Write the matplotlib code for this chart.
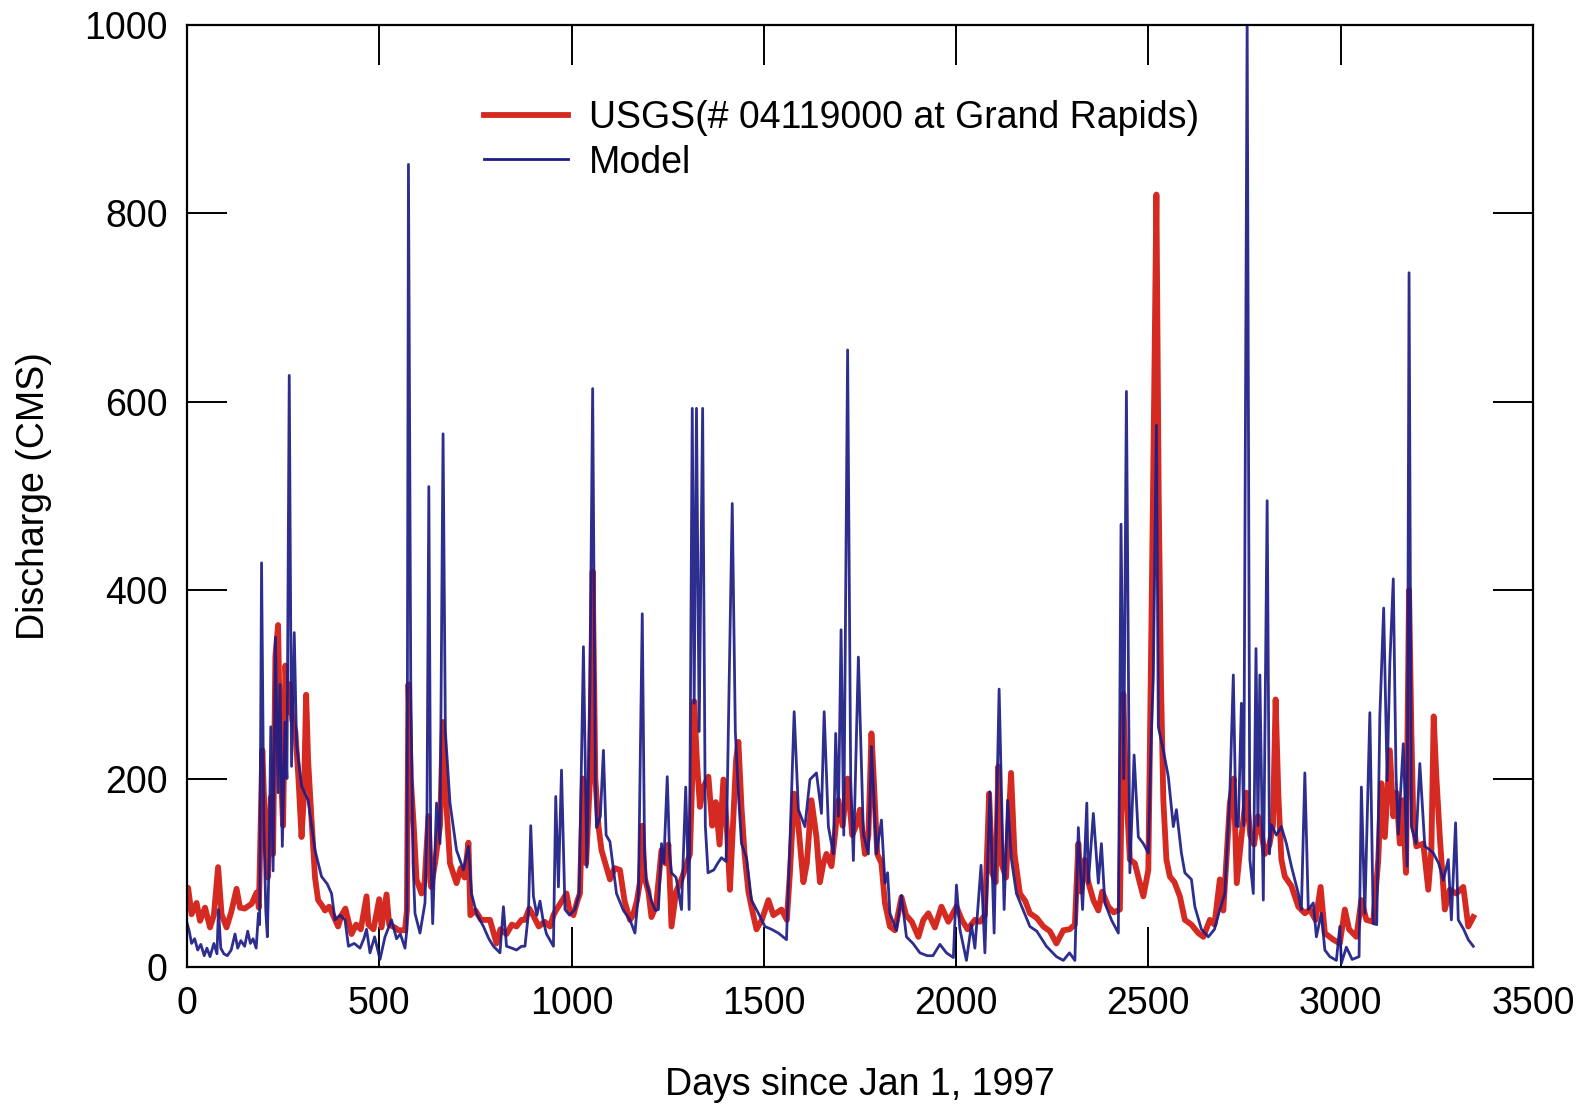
import matplotlib
matplotlib.use("Agg")
import matplotlib.pyplot as plt
from matplotlib.lines import Line2D

plt.rcParams['font.family'] = ['Liberation Sans', 'DejaVu Sans']

# Observed daily discharge, USGS gauge 04119000 (Grand Rapids)
usgs_day = [0, 3, 12, 25, 34, 47, 60, 70, 81, 90, 103, 115, 129, 138, 150, 168, 181, 187,
            190, 196, 203, 210, 218, 224, 230, 237, 243, 250, 256, 262, 268, 274, 282, 290,
            298, 304, 310, 315, 322, 333, 341, 350, 359, 370, 380, 393, 402, 412, 428, 440,
            452, 467, 472, 485, 500, 506, 519, 526, 540, 550, 567, 572,
            576, 582, 590, 597, 610, 618, 628, 635, 645, 658, 666, 672, 684, 692, 701, 712,
            722, 732, 737, 750, 765, 788, 805, 815, 831, 845, 857, 870, 879, 890, 900, 915,
            930, 944, 953, 961, 975, 987, 995, 1005, 1015, 1022, 1030, 1038, 1048, 1055,
            1062, 1070, 1078, 1088, 1100, 1112, 1126, 1138, 1152, 1160, 1170, 1178,
            1184, 1190, 1200, 1208, 1220, 1234, 1245, 1252, 1260, 1272, 1286, 1300, 1308,
            1314, 1319, 1326, 1334, 1342, 1356, 1366, 1375, 1385, 1395, 1405, 1412, 1420,
            1428, 1434, 1442, 1450, 1460, 1470, 1481, 1495, 1512, 1525, 1546, 1560, 1568,
            1579, 1590, 1603, 1612, 1624, 1637, 1646, 1655, 1663, 1676, 1685, 1694, 1705,
            1718, 1730, 1740, 1750, 1763, 1772, 1780, 1786, 1795, 1806, 1815, 1828, 1841,
            1858, 1870, 1885, 1902, 1915, 1928, 1945, 1962, 1980, 2001, 2015, 2030, 2049,
            2062, 2075, 2086, 2094, 2103, 2110, 2118, 2130, 2143, 2152, 2166, 2180, 2192,
            2210, 2227, 2244, 2261, 2279, 2295, 2309, 2318, 2325, 2335, 2344, 2357, 2370,
            2380, 2396, 2410, 2426, 2431, 2435, 2441, 2452, 2465, 2478, 2487, 2500, 2508,
            2515, 2521, 2527, 2533, 2539, 2547, 2556, 2568, 2582, 2595, 2612, 2630, 2643,
            2660, 2672, 2686, 2695, 2712, 2722, 2730, 2742, 2755, 2765, 2775, 2785, 2795,
            2803, 2815, 2824, 2831, 2838, 2846, 2855, 2872, 2890, 2907, 2920, 2935, 2948,
            2959, 2981, 2998, 3011, 3022, 3041, 3054, 3067, 3085, 3098, 3106, 3115, 3128,
            3137, 3145, 3154, 3161, 3170, 3178, 3184, 3189, 3197, 3215, 3228, 3236, 3242,
            3249, 3258, 3271, 3284, 3301, 3319, 3332, 3345]
usgs_q = [84, 84, 56, 68, 49, 63, 42, 55, 106, 56, 42, 58, 83, 63, 62, 67, 79, 63,
          120, 230, 150, 95, 180, 120, 330, 363, 220, 150, 320, 270, 300, 262, 250, 200,
          138, 180, 289, 220, 170, 95, 71, 66, 60, 64, 55, 43, 55, 62, 35, 45,
          40, 75, 45, 40, 72, 42, 77, 45, 42, 39, 39, 60,
          300, 200, 148, 93, 78, 90, 160, 85, 110, 150, 260, 190, 110, 100, 89, 105,
          95, 132, 55, 60, 50, 50, 25, 40, 35, 45, 43, 50, 50, 62, 55, 43,
          48, 43, 55, 61, 70, 78, 60, 55, 70, 78, 200, 110, 200, 420,
          200, 150, 124, 110, 93, 105, 103, 70, 50, 55, 70, 90,
          150, 95, 80, 53, 65, 124, 110, 130, 43, 80, 93, 110, 120,
          200, 282, 220, 170, 190, 202, 150, 175, 130, 199, 140, 82, 150,
          220, 239, 170, 120, 80, 60, 40, 50, 71, 55, 61, 50, 100,
          184, 150, 90, 110, 177, 138, 90, 110, 120, 107, 140, 177, 150,
          200, 140, 150, 167, 120, 140, 248, 200, 120, 110, 68, 43, 39,
          74, 55, 48, 32, 50, 57, 42, 64, 48, 64, 50, 40, 50,
          48, 55, 184, 100, 90, 213, 110, 95, 206, 120, 78, 70, 57,
          52, 43, 38, 25, 39, 40, 45, 131, 80, 114, 90, 71, 60,
          80, 64, 58, 61, 200, 290, 200, 114, 110, 89, 75, 103, 361,
          600, 820, 500, 300, 177, 114, 96, 90, 75, 50, 45, 36, 32,
          50, 45, 93, 60, 174, 200, 89, 138, 185, 140, 130, 160, 140,
          120, 130, 150, 284, 184, 114, 96, 86, 64, 57, 61, 50, 85,
          36, 29, 25, 61, 40, 32, 71, 50, 48, 114, 195, 138, 230,
          160, 185, 131, 177, 100, 400, 250, 156, 128, 131, 82, 124, 266,
          202, 138, 61, 82, 78, 85, 43, 53]

# Simulated daily discharge
model_day = [0, 6, 12, 20, 28, 36, 45, 52, 60, 70, 78, 82, 88, 96, 105, 115, 125, 132,
             140, 150, 158, 165, 172, 180, 186, 189, 194, 200, 205, 209, 214, 218, 224,
             230, 237, 242, 248, 255, 260, 266, 272, 279, 285, 298, 315, 333, 350, 365,
             376, 385, 398, 411, 420, 435, 450, 460, 467, 476, 488, 502, 515, 532, 545,
             555, 567, 572, 576, 582, 588, 593, 606, 619, 624, 629, 634, 639, 649, 658,
             666, 672, 684, 701, 719, 732, 740, 753, 771, 785, 797, 814, 823, 831, 845,
             857, 870, 879, 888, 894, 901, 910, 918, 926, 935, 953, 959, 966, 974, 983,
             995, 1009, 1020, 1031, 1040, 1048, 1055, 1062, 1065, 1075, 1083, 1090, 1100,
             1117, 1135, 1152, 1165, 1174, 1184, 1190, 1195, 1208, 1218, 1226, 1234, 1240,
             1249, 1255, 1260, 1272, 1286, 1297, 1306, 1314, 1319, 1325, 1332, 1341, 1348,
             1355, 1370, 1380, 1390, 1402, 1418, 1426, 1434, 1442, 1455, 1468, 1486, 1503,
             1520, 1538, 1559, 1568, 1579, 1590, 1607, 1620, 1637, 1650, 1657, 1668, 1681,
             1687, 1694, 1701, 1708, 1718, 1726, 1733, 1746, 1759, 1772, 1780, 1793, 1806,
             1815, 1822, 1828, 1845, 1858, 1871, 1888, 1906, 1925, 1940, 1958, 1975, 1993,
             2001, 2010, 2027, 2040, 2049, 2065, 2075, 2088, 2099, 2112, 2125, 2134, 2144,
             2157, 2175, 2192, 2210, 2235, 2261, 2279, 2295, 2309, 2318, 2329, 2340, 2344,
             2357, 2370, 2378, 2387, 2404, 2422, 2429, 2436, 2443, 2452, 2463, 2474, 2487,
             2500, 2508, 2513, 2521, 2526, 2539, 2552, 2565, 2573, 2586, 2595, 2612, 2621,
             2638, 2656, 2672, 2686, 2699, 2712, 2721, 2728, 2734, 2742, 2748, 2757, 2764,
             2773, 2780, 2785, 2790, 2799, 2809, 2815, 2820, 2833, 2846, 2859, 2872, 2890,
             2898, 2907, 2916, 2929, 2937, 2950, 2959, 2972, 2989, 2998, 3002, 3015, 3030,
             3048, 3054, 3063, 3076, 3085, 3094, 3102, 3112, 3121, 3128, 3137, 3144, 3150,
             3163, 3173, 3178, 3184, 3196, 3206, 3219, 3230, 3241, 3255, 3267, 3280, 3288,
             3299, 3306, 3320, 3332, 3345]
model_q = [47, 38, 25, 30, 18, 24, 12, 20, 11, 25, 14, 61, 20, 14, 12, 18, 35, 20,
           28, 22, 38, 25, 30, 20, 57, 45, 429, 150, 60, 32, 120, 255, 102,
           350, 185, 300, 128, 260, 200, 628, 213, 355, 237, 192, 177, 124, 96, 88,
           78, 50, 55, 50, 22, 25, 20, 30, 40, 15, 32, 8, 32, 50, 30,
           35, 20, 40, 852, 300, 110, 57, 36, 68, 150, 510, 120, 46, 174, 131,
           566, 250, 174, 124, 103, 128, 78, 57, 43, 30, 22, 15, 64, 22, 20,
           18, 22, 22, 57, 150, 75, 55, 70, 50, 35, 22, 181, 85, 209, 61,
           55, 61, 78, 340, 106, 300, 614, 200, 148, 160, 230, 140, 133,
           78, 60, 50, 36, 78, 375, 120, 89, 70, 60, 61, 131, 110,
           202, 120, 100, 95, 61, 191, 61, 593, 280, 593, 250, 593, 150,
           100, 103, 110, 116, 112, 492, 250, 184, 131, 116, 71, 57, 43,
           40, 36, 29, 131, 271, 167, 149, 199, 206, 163, 271, 149, 120,
           248, 160, 358, 140, 655, 200, 113, 329, 141, 120, 234, 120, 156,
           89, 100, 57, 39, 76, 32, 25, 15, 12, 12, 24, 15, 10,
           87, 40, 7, 45, 20, 108, 15, 186, 36, 295, 61, 177, 114,
           78, 60, 43, 38, 22, 11, 7, 15, 7, 148, 61, 174, 89,
           163, 89, 131, 68, 50, 36, 470, 200, 611, 100, 225, 138, 131,
           121, 250, 308, 575, 255, 230, 202, 149, 167, 121, 100, 93, 64,
           40, 32, 40, 61, 78, 185, 310, 150, 149, 280, 150, 1005, 114,
           78, 338, 150, 310, 71, 495, 120, 151, 140, 149, 131, 107, 78,
           61, 206, 61, 68, 32, 57, 18, 11, 7, 43, 4, 21, 8,
           11, 191, 57, 270, 46, 45, 266, 381, 198, 322, 412, 206, 141,
           237, 107, 737, 149, 131, 216, 128, 125, 121, 110, 92, 114, 50,
           153, 50, 40, 29, 22]

usgs_label = "USGS(# 04119000 at Grand Rapids)"
model_label = "Model"

red = '#d42a22'
navy = '#1c1c86'

fig = plt.figure(figsize=(15.87, 11.05), dpi=100)
ax = fig.add_axes([0.1178, 0.1249, 0.8481, 0.8525])

ax.plot(usgs_day, usgs_q, color=red, lw=4.2, solid_joinstyle='round')
ax.plot(model_day, model_q, color=navy, lw=2.0, alpha=0.92)

ax.set_xlim(0, 3500)
ax.set_ylim(0, 1000)
ax.set_xticks(range(0, 3501, 500))
ax.set_yticks(range(0, 1001, 200))

ax.tick_params(direction='in', length=29, width=1.4, top=True, right=True,
               labelsize=27, pad=14)
for sp in ax.spines.values():
    sp.set_linewidth(1.6)

ax.set_xlabel("Days since Jan 1, 1997", fontsize=27, labelpad=32)
ax.set_ylabel("Discharge (CMS)", fontsize=27, labelpad=23)

handles = [Line2D([], [], color=red, lw=4.2),
           Line2D([], [], color=navy, lw=2.0)]
ax.legend(handles, [usgs_label, model_label], loc='upper left',
          bbox_to_anchor=(0.2207, 0.920), frameon=False, fontsize=27,
          handlelength=2.25, handletextpad=0.56, labelspacing=0.22,
          borderpad=0, borderaxespad=0)

fig.savefig("out.png", dpi=100)
